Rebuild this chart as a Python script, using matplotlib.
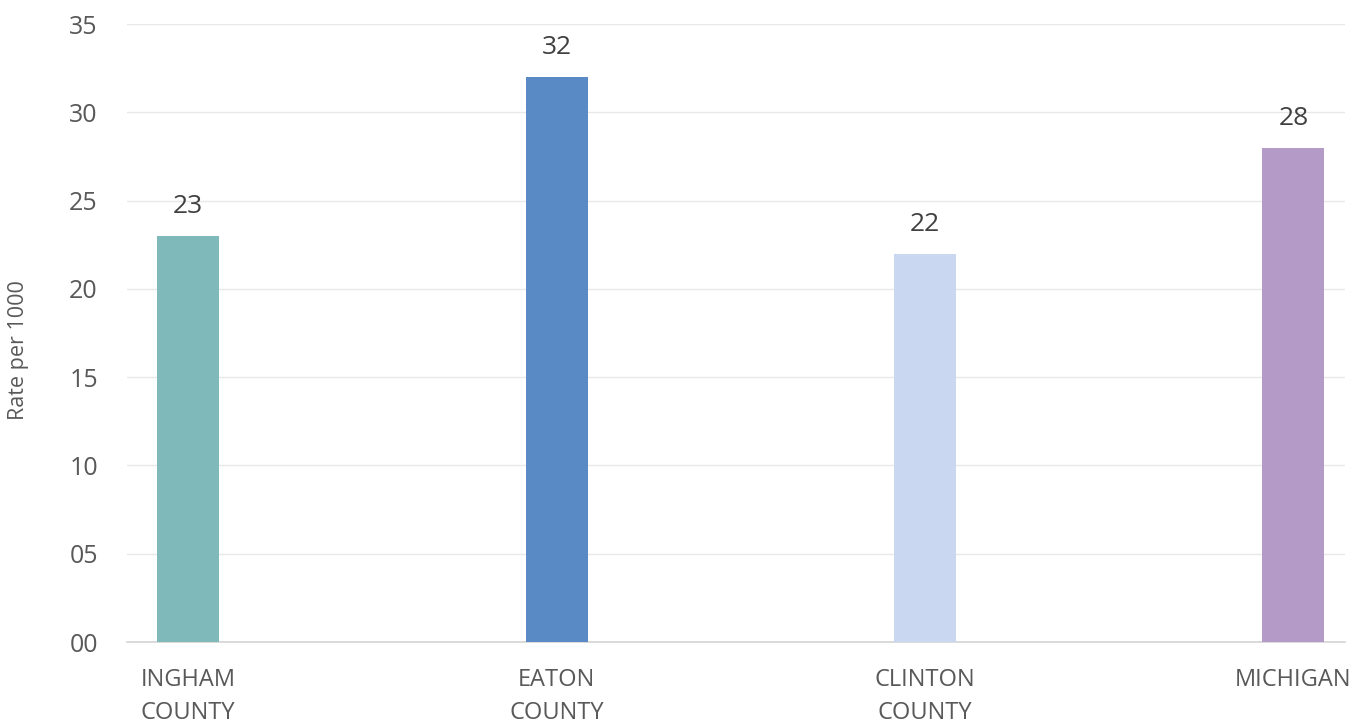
import matplotlib
matplotlib.use("Agg")
import matplotlib.pyplot as plt

categories = ["INGHAM\nCOUNTY", "EATON\nCOUNTY", "CLINTON\nCOUNTY", "MICHIGAN"]
rates = [23, 32, 22, 28]
colors = ["#7FB9BA", "#5A8AC6", "#C9D8F0", "#B49AC7"]
yticks = [0, 5, 10, 15, 20, 25, 30, 35]
ytick_labels = ["00", "05", "10", "15", "20", "25", "30", "35"]

plt.rcParams["font.family"] = ["Open Sans", "DejaVu Sans"]

fig = plt.figure(figsize=(13.61, 7.24), dpi=100)
ax = fig.add_axes([127 / 1361, (724 - 642) / 724, (1345 - 127) / 1361, (642 - 24) / 724])

x = list(range(len(categories)))
ax.bar(x, rates, width=0.168, color=colors, zorder=3)

for xi, v in zip(x, rates):
    ax.annotate(f"{v}", (xi, v), xytext=(0, 12), textcoords="offset points",
                ha="center", va="bottom", fontsize=19, color="#404040")

ax.set_ylim(0, 35)
ax.set_xlim(-0.166, 3.14)
ax.set_yticks(yticks)
ax.set_yticklabels(ytick_labels, fontsize=18, color="#595959")
ax.set_xticks(x)
ax.set_xticklabels(categories, fontsize=17, color="#595959", linespacing=1.5, va="top")
ax.tick_params(axis="both", length=0)
ax.tick_params(axis="y", pad=21)
ax.tick_params(axis="x", pad=19)

ax.grid(axis="y", color="#E8E8E8", linewidth=1, zorder=0)
for side in ["top", "right", "left"]:
    ax.spines[side].set_visible(False)
ax.spines["bottom"].set_color("#D4D4D4")
ax.spines["bottom"].set_linewidth(1.2)

fig.text(19 / 1361, (724 - 350) / 724, "Rate per 1000", rotation=90, ha="center", va="center",
         fontsize=15.5, color="#595959", family=["Open Sans", "DejaVu Sans"])

fig.savefig("out.png", dpi=100)
